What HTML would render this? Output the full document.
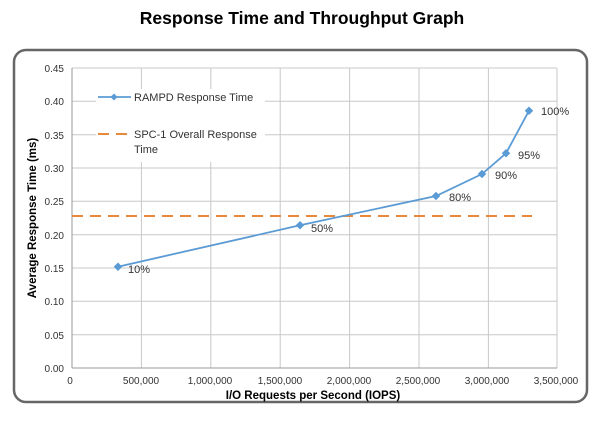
<!DOCTYPE html>
<html><head><style>body{margin:0;background:#fff}</style></head><body>
<svg width="600" height="417" xmlns="http://www.w3.org/2000/svg" font-family="Liberation Sans, sans-serif">
<text x="302" y="24" text-anchor="middle" font-size="17.5" font-weight="bold">Response Time and Throughput Graph</text>
<rect x="14" y="50" width="573" height="352" rx="12" fill="#fff" stroke="#666" stroke-width="2.5"/>
<g stroke="#c8c8c8" stroke-width="1">
<line x1="72" y1="68" x2="557" y2="68"/><line x1="72" y1="101.3" x2="557" y2="101.3"/><line x1="72" y1="134.7" x2="557" y2="134.7"/><line x1="72" y1="168" x2="557" y2="168"/><line x1="72" y1="201.3" x2="557" y2="201.3"/><line x1="72" y1="234.7" x2="557" y2="234.7"/><line x1="72" y1="268" x2="557" y2="268"/><line x1="72" y1="301.3" x2="557" y2="301.3"/><line x1="72" y1="334.7" x2="557" y2="334.7"/>
<line x1="141.4" y1="68" x2="141.4" y2="368"/><line x1="210.8" y1="68" x2="210.8" y2="368"/><line x1="280.2" y1="68" x2="280.2" y2="368"/><line x1="349.6" y1="68" x2="349.6" y2="368"/><line x1="419" y1="68" x2="419" y2="368"/><line x1="488.4" y1="68" x2="488.4" y2="368"/><line x1="557" y1="68" x2="557" y2="368"/>
</g>
<line x1="72" y1="68" x2="72" y2="368" stroke="#999"/><line x1="72" y1="368" x2="557" y2="368" stroke="#999"/>
<rect x="96" y="89" width="169" height="73" fill="#fff"/>
<g font-size="10" fill="#333" text-anchor="end">
<text x="64" y="72">0.45</text><text x="64" y="105">0.40</text><text x="64" y="139">0.35</text><text x="64" y="172">0.30</text><text x="64" y="205">0.25</text><text x="64" y="239">0.20</text><text x="64" y="272">0.15</text><text x="64" y="305">0.10</text><text x="64" y="339">0.05</text><text x="64" y="372">0.00</text>
</g>
<g font-size="10" fill="#333" text-anchor="middle">
<text x="70" y="384">0</text><text x="141" y="384">500,000</text><text x="210" y="384">1,000,000</text><text x="280" y="384">1,500,000</text><text x="349" y="384">2,000,000</text><text x="418" y="384">2,500,000</text><text x="487" y="384">3,000,000</text><text x="556" y="384">3,500,000</text>
</g>
<text x="313" y="399" text-anchor="middle" font-size="11.5" font-weight="bold">I/O Requests per Second (IOPS)</text>
<text transform="translate(36,218) rotate(-90)" text-anchor="middle" font-size="11.5" font-weight="bold">Average Response Time (ms)</text>
<line x1="72" y1="216" x2="532" y2="216" stroke="#e8883a" stroke-width="2" stroke-dasharray="11,7"/>
<polyline points="118,266.7 300,225.3 436,196 482,174 506,153.3 529,110.7" fill="none" stroke="#5b9bd5" stroke-width="1.8"/>
<g fill="#5b9bd5">
<rect x="115" y="263.7" width="6" height="6" transform="rotate(45 118 266.7)"/><rect x="297" y="222.3" width="6" height="6" transform="rotate(45 300 225.3)"/><rect x="433" y="193" width="6" height="6" transform="rotate(45 436 196)"/><rect x="479" y="171" width="6" height="6" transform="rotate(45 482 174)"/><rect x="503" y="150.3" width="6" height="6" transform="rotate(45 506 153.3)"/><rect x="526" y="107.7" width="6" height="6" transform="rotate(45 529 110.7)"/>
</g>
<g font-size="11" fill="#333">
<text x="128" y="273">10%</text><text x="311" y="232">50%</text><text x="449" y="201">80%</text><text x="495" y="179">90%</text><text x="518" y="159">95%</text><text x="541" y="115">100%</text>
</g>
<line x1="98" y1="97" x2="131" y2="97" stroke="#5b9bd5" stroke-width="1.8"/>
<rect x="111.5" y="94.5" width="5" height="5" fill="#5b9bd5" transform="rotate(45 114 97)"/>
<line x1="98" y1="134" x2="131" y2="134" stroke="#e8883a" stroke-width="2" stroke-dasharray="11,7"/>
<g font-size="11" fill="#333">
<text x="134" y="101">RAMPD Response Time</text><text x="134" y="138">SPC-1 Overall Response</text><text x="134" y="153">Time</text>
</g>
</svg>
</body></html>
